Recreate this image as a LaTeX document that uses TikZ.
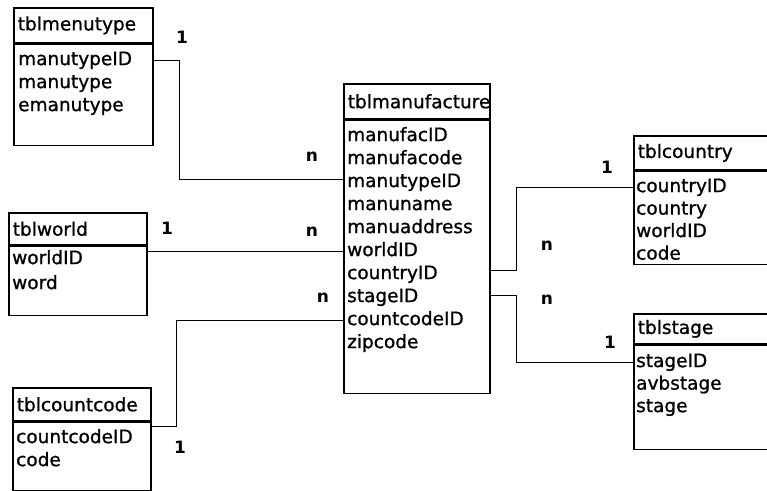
\documentclass[tikz,border=0pt]{standalone}
\usepackage{fontspec}
\setmainfont{DejaVu Sans}
\newfontfamily\tblfont{DejaVu Sans}[FakeBold=1]
\usetikzlibrary{positioning}

\begin{document}
\begin{tikzpicture}[
        x=1pt, y=-1pt,
        tblhead/.style={
            draw,
            line width=1.6pt,
            anchor=north west,
            align=left,
            inner xsep=4pt,
            inner ysep=0pt,
            font=\tblfont\fontsize{18.5}{22}\selectfont
        },
        tblbody/.style={
            draw,
            line width=1.6pt,
            anchor=north west,
            inner sep=0pt
        },
        field/.style={
            anchor=west,
            inner sep=0pt,
            text height=13pt,
            text depth=4pt,
            font=\tblfont\fontsize{18.5}{22}\selectfont
        },
        link/.style={line width=1.3pt},
        card/.style={font=\fontsize{17}{20}\selectfont\bfseries}
    ]

        \useasboundingbox (0,0) rectangle (767,490);

        % Tables
        \node[tblhead, text width=131pt, minimum height=35pt] (menutype) at (13,7) {tblmenutype};
        \node[tblbody, minimum width=139pt, minimum height=101pt] (mtbody) at (menutype.south west) {};

        \node[tblhead, text width=130pt, minimum height=32pt] (world) at (8,212) {tblworld};
        \node[tblbody, minimum width=138pt, minimum height=69pt] (wdbody) at (world.south west) {};

        \node[tblhead, text width=130pt, minimum height=33pt] (countcode) at (12,387) {tblcountcode};
        \node[tblbody, minimum width=138pt, minimum height=68pt] (ccbody) at (countcode.south west) {};

        \node[tblhead, text width=138pt, minimum height=35pt] (manufacture) at (343,83) {tblmanufacture};
        \node[tblbody, minimum width=146pt, minimum height=273pt] (mfbody) at (manufacture.south west) {};

        \node[tblhead, text width=139pt, minimum height=34pt] (country) at (633,135) {tblcountry};
        \node[tblbody, minimum width=147pt, minimum height=93pt] (ctbody) at (country.south west) {};

        \node[tblhead, text width=139pt, minimum height=30pt] (stage) at (633,313) {tblstage};
        \node[tblbody, minimum width=147pt, minimum height=104pt] (stbody) at (stage.south west) {};

        % Fields
        \foreach \f [count=\i from 0] in {manutypeID, manutype, emanutype}
            \node[field] (mt-\f) at ([shift={(5,17+23*\i)}]mtbody.north west) {\f};

        \foreach \f [count=\i from 0] in {worldID, word}
            \node[field] (wd-\f) at ([shift={(4,14+25*\i)}]wdbody.north west) {\f};

        \foreach \f [count=\i from 0] in {countcodeID, code}
            \node[field] (cc-\f) at ([shift={(4,17+23*\i)}]ccbody.north west) {\f};

        \foreach \f [count=\i from 0] in {manufacID, manufacode, manutypeID, manuname,
                manuaddress, worldID, countryID, stageID, countcodeID, zipcode}
            \node[field] (mf-\f) at ([shift={(4,17+23*\i)}]mfbody.north west) {\f};

        \foreach \f [count=\i from 0] in {countryID, country, worldID, code}
            \node[field] (ct-\f) at ([shift={(3,17+22.5*\i)}]ctbody.north west) {\f};

        \foreach \f [count=\i from 0] in {stageID, avbstage, stage}
            \node[field] (st-\f) at ([shift={(3,18+22.5*\i)}]stbody.north west) {\f};

        % Relationships
        \draw[link] (mtbody.east |- mt-manutypeID) -- ++(26,0) |- ([yshift=3pt]mfbody.west |- mf-manutypeID);
        \draw[link] (wdbody.east |- mf-worldID) -- (mfbody.west |- mf-worldID);
        \draw[link] ([yshift=-5pt]ccbody.north east) -- ++(25,0) |- (mfbody.west |- mf-countcodeID);
        \draw[link] ([yshift=4pt]mfbody.east |- mf-countryID) -- ++(26,0) |- (ctbody.west |- ct-countryID);
        \draw[link] ([yshift=2pt]mfbody.east |- mf-stageID) -- ++(26,0) |- (stbody.west |- st-stageID);

        % Cardinalities
        \node[card] (c-mt) at (182,37) {1};
        \node[card] (c-mfmt) at (312,157) {n};
        \node[card] (c-wd) at (167,228) {1};
        \node[card] (c-mfwd) at (312,232) {n};
        \node[card] (c-mfcc) at (323,298) {n};
        \node[card] (c-cc) at (180,447) {1};
        \node[card] (c-ct) at (607,167) {1};
        \node[card] (c-mfct) at (547,246) {n};
        \node[card] (c-mfst) at (547,300) {n};
        \node[card] (c-st) at (610,342) {1};

    \end{tikzpicture}
\end{document}
